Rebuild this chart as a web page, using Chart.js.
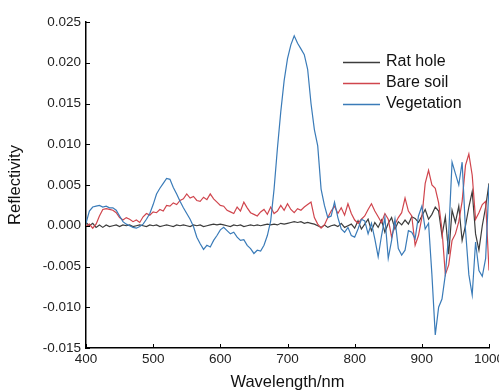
<!DOCTYPE html>
<html>
<head>
<meta charset="utf-8">
<script src="https://cdn.jsdelivr.net/npm/chart.js@4.4.1/dist/chart.umd.min.js"></script>
<style>
  body { margin: 0; background: #fff; }
  #wrap { width: 499px; height: 392px; }
</style>
</head>
<body>
<div id="wrap"><canvas id="spectraChart" width="499" height="392"></canvas></div>
<script>
// wavelength (nm), 5 nm steps
const wavelengths = [
  400, 405, 410, 415, 420, 425, 430, 435, 440, 445, 450, 455, 460, 465, 470, 475, 480, 485, 490, 495,
  500, 505, 510, 515, 520, 525, 530, 535, 540, 545, 550, 555, 560, 565, 570, 575, 580, 585, 590, 595,
  600, 605, 610, 615, 620, 625, 630, 635, 640, 645, 650, 655, 660, 665, 670, 675, 680, 685, 690, 695,
  700, 705, 710, 715, 720, 725, 730, 735, 740, 745, 750, 755, 760, 765, 770, 775, 780, 785, 790, 795,
  800, 805, 810, 815, 820, 825, 830, 835, 840, 845, 850, 855, 860, 865, 870, 875, 880, 885, 890, 895,
  900, 905, 910, 915, 920, 925, 930, 935, 940, 945, 950, 955, 960, 965, 970, 975, 980, 985, 990, 995,
  1000
];

const ratHole = [
  0.0004, 0.0000, 0.0003, -0.0002, 0.0001, -0.0002, 0.0001, -0.0001, 0.0000, 0.0001,
  -0.0001, 0.0001, 0.0000, 0.0001, -0.0001, 0.0000, 0.0001, 0.0000, -0.0001, 0.0001,
  0.0000, 0.0001, -0.0001, 0.0000, 0.0001, 0.0000, -0.0001, 0.0001, 0.0000, 0.0001,
  0.0000, -0.0001, 0.0001, 0.0000, 0.0001, -0.0001, 0.0000, 0.0001, 0.0002, 0.0001,
  0.0002, 0.0001, 0.0000, -0.0001, 0.0001, 0.0000, 0.0001, -0.0001, 0.0000, 0.0001,
  0.0000, 0.0001, 0.0000, 0.0001, 0.0002, 0.0001, 0.0002, 0.0001, 0.0003, 0.0002,
  0.0003, 0.0004, 0.0005, 0.0004, 0.0005, 0.0003, 0.0004, 0.0003, 0.0002, 0.0000,
  -0.0002, 0.0001, -0.0002, 0.0000, 0.0001, -0.0001, 0.0003, -0.0002, 0.0000, 0.0002,
  -0.0003, 0.0006, -0.0004, 0.0002, 0.0008, -0.0006, 0.0004, -0.0002, 0.0007, -0.0008,
  0.0003, 0.0010, -0.0004, 0.0005, 0.0001, 0.0007, 0.0002, 0.0011, 0.0009, 0.0004,
  0.0012, 0.0020, 0.0008, 0.0014, 0.0023, 0.0018, -0.0012, 0.0011, -0.0035, 0.0019,
  0.0004, 0.0024, -0.0018, 0.0000, 0.0023, 0.0042, -0.0010, -0.0030, 0.0000, 0.0023,
  0.0052
];

const bareSoil = [
  -0.0001, 0.0002, -0.0003, 0.0002, 0.0012, 0.0020, 0.0021, 0.0020, 0.0019, 0.0016,
  0.0010, 0.0007, 0.0010, 0.0008, 0.0005, 0.0007, 0.0004, 0.0011, 0.0015, 0.0013,
  0.0017, 0.0016, 0.0020, 0.0018, 0.0025, 0.0024, 0.0028, 0.0026, 0.0031, 0.0033,
  0.0039, 0.0034, 0.0036, 0.0031, 0.0030, 0.0035, 0.0032, 0.0039, 0.0033, 0.0029,
  0.0025, 0.0024, 0.0019, 0.0017, 0.0015, 0.0023, 0.0018, 0.0029, 0.0022, 0.0016,
  0.0014, 0.0012, 0.0017, 0.0020, 0.0014, 0.0023, 0.0015, 0.0018, 0.0025, 0.0019,
  0.0027, 0.0020, 0.0016, 0.0021, 0.0019, 0.0023, 0.0026, 0.0029, 0.0010, 0.0002,
  -0.0003, 0.0001, 0.0010, 0.0018, 0.0024, 0.0015, 0.0022, 0.0013, 0.0027, 0.0015,
  0.0007, 0.0003, 0.0008, 0.0012, 0.0020, 0.0027, 0.0018, 0.0011, 0.0004, 0.0015,
  0.0008, -0.0014, 0.0002, 0.0010, 0.0016, 0.0034, 0.0018, 0.0012, -0.0024, -0.0012,
  0.0010, 0.0052, 0.0068, 0.0050, 0.0046, 0.0028, -0.0005, -0.0060, -0.0048, -0.0018,
  -0.0010, 0.0005, 0.0030, 0.0074, 0.0088, 0.0062, 0.0008, 0.0016, 0.0026, 0.0030,
  -0.0055
];

const vegetation = [
  0.0003, 0.0018, 0.0023, 0.0024, 0.0025, 0.0023, 0.0024, 0.0022, 0.0022, 0.0019,
  0.0012, 0.0005, 0.0002, 0.0000, -0.0002, -0.0003, -0.0001, 0.0002, 0.0008, 0.0015,
  0.0026, 0.0039, 0.0046, 0.0052, 0.0058, 0.0057, 0.0047, 0.0039, 0.0030, 0.0022,
  0.0015, 0.0008, -0.0001, -0.0014, -0.0022, -0.0029, -0.0024, -0.0026, -0.0018, -0.0012,
  -0.0005, -0.0002, -0.0006, -0.0010, -0.0008, -0.0014, -0.0018, -0.0017, -0.0024, -0.0028,
  -0.0034, -0.0030, -0.0031, -0.0024, -0.0012, 0.0006, 0.0045, 0.0095, 0.0140, 0.0178,
  0.0205, 0.0222, 0.0233, 0.0224, 0.0217, 0.0210, 0.0192, 0.0150, 0.0118, 0.0098,
  0.0045, 0.0025, 0.0010, 0.0012, 0.0029, 0.0010, -0.0004, -0.0008, -0.0002, -0.0012,
  -0.0014, -0.0004, 0.0008, 0.0006, -0.0010, 0.0003, -0.0016, -0.0038, -0.0012, 0.0010,
  -0.0040, -0.0018, 0.0008, -0.0028, -0.0036, -0.0030, -0.0006, -0.0008, -0.0016, 0.0012,
  0.0024, -0.0004, 0.0003, -0.0060, -0.0134, -0.0100, -0.0090, -0.0060, -0.0010, 0.0078,
  0.0064, 0.0050, 0.0078, -0.0005, -0.0060, -0.0085, -0.0020, -0.0055, -0.0062, -0.0040,
  0.0050
];

const seriesNames = ['Rat hole', 'Bare soil', 'Vegetation'];
const seriesColors = ['#3c3c3c', '#d0454d', '#3a7bb8'];

const xTicks = [400, 500, 600, 700, 800, 900, 1000];
const yTicks = [-0.015, -0.010, -0.005, 0.000, 0.005, 0.010, 0.015, 0.020, 0.025];

const toPoints = vals => vals.map((v, i) => ({ x: wavelengths[i], y: v }));

// inward tick marks, like the Origin plot
const innerTicks = {
  id: 'innerTicks',
  afterDraw(chart) {
    const { ctx, chartArea, scales } = chart;
    ctx.save();
    ctx.strokeStyle = '#000';
    ctx.lineWidth = 1;
    xTicks.forEach(v => {
      const px = Math.round(scales.x.getPixelForValue(v)) + 0.5;
      ctx.beginPath();
      ctx.moveTo(px, chartArea.bottom);
      ctx.lineTo(px, chartArea.bottom - 4);
      ctx.stroke();
    });
    yTicks.forEach(v => {
      const py = Math.round(scales.y.getPixelForValue(v)) + 0.5;
      ctx.beginPath();
      ctx.moveTo(chartArea.left, py);
      ctx.lineTo(chartArea.left + 4, py);
      ctx.stroke();
    });
    ctx.restore();
  }
};

// legend box in the upper right of the plot
const legendBox = {
  id: 'legendBox',
  afterDraw(chart) {
    const { ctx } = chart;
    ctx.save();
    ctx.font = '16px "Liberation Sans", Arial, sans-serif';
    ctx.textBaseline = 'middle';
    seriesNames.forEach((name, i) => {
      const y = 62 + i * 21;
      ctx.strokeStyle = seriesColors[i];
      ctx.lineWidth = 1.3;
      ctx.beginPath();
      ctx.moveTo(343, y + 0.5);
      ctx.lineTo(380, y + 0.5);
      ctx.stroke();
      ctx.fillStyle = '#111';
      ctx.fillText(name, 386, y);
    });
    ctx.restore();
  }
};

const ctx = document.getElementById('spectraChart').getContext('2d');
const series = [ratHole, bareSoil, vegetation];

new Chart(ctx, {
  type: 'line',
  data: {
    datasets: series.map((vals, i) => ({
      label: seriesNames[i],
      data: toPoints(vals),
      borderColor: seriesColors[i],
      borderWidth: 1.2,
      pointRadius: 0,
      tension: 0,
      order: 2 - i
    }))
  },
  options: {
    responsive: false,
    animation: false,
    devicePixelRatio: 1,
    layout: { padding: { left: 0, right: 10, top: 22, bottom: 0 } },
    plugins: {
      legend: { display: false },
      tooltip: { enabled: false }
    },
    scales: {
      x: {
        type: 'linear',
        min: 400,
        max: 1000,
        afterBuildTicks: scale => { scale.ticks = xTicks.map(v => ({ value: v })); },
        afterFit: scale => { scale.height = 44; scale.paddingLeft = 0; scale.paddingRight = 0; },
        grid: { drawOnChartArea: false, drawTicks: false },
        border: { color: '#000', width: 1.5 },
        ticks: {
          padding: 3,
          maxRotation: 0,
          color: '#222',
          font: { family: '"Liberation Sans", Arial, sans-serif', size: 13.5 },
          callback: v => String(v)
        },
        title: {
          display: true,
          text: 'Wavelength/nm',
          color: '#111',
          padding: { top: 0, bottom: 0 },
          font: { family: '"Liberation Sans", Arial, sans-serif', size: 16.5 }
        }
      },
      y: {
        min: -0.015,
        max: 0.025,
        afterBuildTicks: scale => { scale.ticks = yTicks.map(v => ({ value: v })); },
        afterFit: scale => { scale.width = 86; scale.paddingTop = 0; scale.paddingBottom = 0; },
        grid: { drawOnChartArea: false, drawTicks: false },
        border: { color: '#000', width: 1.5 },
        ticks: {
          padding: 5,
          color: '#222',
          font: { family: '"Liberation Sans", Arial, sans-serif', size: 13.5 },
          callback: v => v.toFixed(3)
        },
        title: {
          display: true,
          text: 'Reflectivity',
          color: '#111',
          padding: { top: 6, bottom: 0 },
          font: { family: '"Liberation Sans", Arial, sans-serif', size: 16.5 }
        }
      }
    }
  },
  plugins: [innerTicks, legendBox]
});
</script>
</body>
</html>
